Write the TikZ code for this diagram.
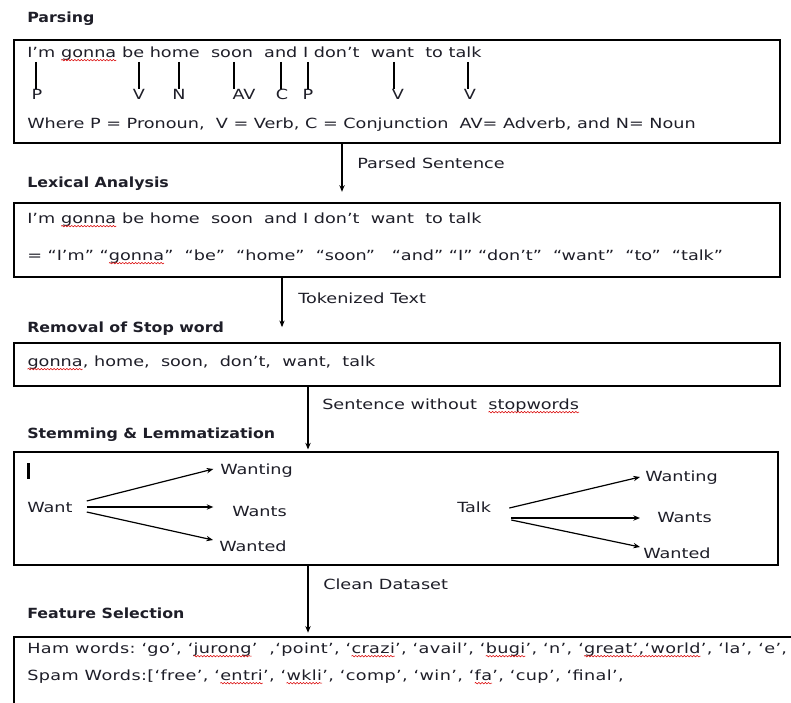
\documentclass[tikz,border=0pt]{standalone}
\usepackage{fontspec}
\setmainfont{DejaVu Sans}[FakeStretch=1.26, BoldFeatures={FakeStretch=1.13}]
\usetikzlibrary{arrows.meta,fit,decorations.pathmorphing}
\definecolor{ink}{HTML}{1E1E28}
\newcommand\squig[1]{\tikz[baseline=(sq.base)]{\node[inner sep=0pt,outer sep=0pt,anchor=base] (sq) {#1};
  \draw[red!85!black, line width=0.4pt, decorate, decoration={snake,amplitude=0.55pt,segment length=2.4pt}]
    ([yshift=-2pt]sq.base west) -- ([yshift=-2pt]sq.base east);}}
\begin{document}
\begin{tikzpicture}[x=0.75pt,y=-0.75pt,
  font=\fontsize{10.5pt}{12pt}\selectfont, text=ink,
  box/.style={draw, line width=1.8pt, inner sep=0pt},
  txt/.style={anchor=west, inner sep=0pt},
  widetxt/.style={anchor=west, inner sep=0pt, font=\fontsize{10.5pt}{12pt}\selectfont\addfontfeature{LetterSpace=2.6}},
  ttl/.style={anchor=west, inner sep=0pt, font=\fontsize{10.5pt}{12pt}\selectfont\bfseries},
  tagl/.style={anchor=north, inner sep=0pt},
  conn/.style={line width=0.9pt, -{Stealth[length=5pt,width=4pt]}},
  tagline/.style={line width=0.9pt}]
\useasboundingbox (0,0) rectangle (791,702);

% ---------- Parsing ----------
\node[ttl] (t1) at (27,19) {Parsing};
\node[box, fit={(14,40) (780,143)}] (b1) {};
\node[txt] (s1) at (27,54) {I’m \squig{gonna} be home\ \ soon\ \ and I don’t\ \ want\ \ to talk};
\node[tagl] (p1) at (37,89) {P};
\node[tagl] (p2) at (139,89) {V};
\node[tagl] (p3) at (179,89) {N};
\node[tagl] (p4) at (244,89) {AV};
\node[tagl] (p5) at (282,89) {C};
\node[tagl] (p6) at (308,89) {P};
\node[tagl] (p7) at (398,89) {V};
\node[tagl] (p8) at (470,89) {V};
\coordinate (w1) at (36,62);
\coordinate (w2) at (139,62);
\coordinate (w3) at (179,62);
\coordinate (w4) at (234,62);
\coordinate (w5) at (281,62);
\coordinate (w6) at (308,62);
\coordinate (w7) at (394,62);
\coordinate (w8) at (468,62);
\foreach \i in {1,...,8}{\draw[tagline] (w\i) -- (w\i |- p\i.north);}
\node[txt] (s2) at (27,125) {Where P = Pronoun,\ \ V = Verb, C = Conjunction\ \ AV= Adverb, and N= Noun};

% ---------- Lexical Analysis ----------
\node[ttl] (t2) at (27,184) {Lexical Analysis};
\node[box, fit={(14,203) (780,277)}] (b2) {};
\node[txt] at (27,220) {I’m \squig{gonna} be home\ \ soon\ \ and I don’t\ \ want\ \ to talk};
\node[txt] at (27,257) {= “I’m” “\squig{gonna}”\ \ “be”\ \ “home”\ \ “soon”\ \ \ “and” “I” “don’t”\ \ “want”\ \ “to”\ \ “talk”};

% ---------- Removal of Stop word ----------
\node[ttl] (t3) at (27,329) {Removal of Stop word};
\node[box, fit={(14,343) (780,386)}] (b3) {};
\node[txt] at (27,363) {\squig{gonna}, home,\ \ soon,\ \ don’t,\ \ want,\ \ talk};

% ---------- Stemming ----------
\node[ttl] (t4) at (27,435) {Stemming \& Lemmatization};
\node[box, fit={(14,452) (778,565)}] (b4) {};
\draw[line width=2.4pt] (28.5,463) -- (28.5,479);
\node[txt] (want) at (27,507) {Want};
\node[txt] (wanting1) at (220,471) {Wanting};
\node[txt] (wants1) at (232,511) {Wants};
\node[txt] (wanted1) at (219,546) {Wanted};
\draw[conn] ([xshift=10.5pt,yshift=4.5pt]want.east) -- ([xshift=-5pt,yshift=1.5pt]wanting1.west);
\draw[conn] ([xshift=10.5pt]want.east) -- ([xshift=-14pt,yshift=3pt]wants1.west);
\draw[conn] ([xshift=10.5pt,yshift=-3.75pt]want.east) -- ([xshift=-4.5pt,yshift=4.5pt]wanted1.west);
\node[txt] (talk) at (457,507) {Talk};
\node[txt] (wanting2) at (645,478) {Wanting};
\node[txt] (wants2) at (657,517) {Wants};
\node[txt] (wanted2) at (643,553) {Wanted};
\draw[conn] ([xshift=13.5pt,yshift=-0.75pt]talk.east) -- ([xshift=-3.75pt,yshift=0.75pt]wanting2.west);
\draw[conn] ([xshift=15pt,yshift=-8.25pt]talk.east) -- ([xshift=-12.75pt,yshift=-0.75pt]wants2.west);
\draw[conn] ([xshift=15pt,yshift=-9.75pt]talk.east) -- ([xshift=-2.25pt,yshift=4.5pt]wanted2.west);

% ---------- Feature Selection ----------
\node[ttl] (t5) at (27,613) {Feature Selection};
\node[fit={(14,637) (800,720)}, inner sep=0pt] (b5) {};
\draw[line width=1.8pt] (b5.north east) -- (b5.north west) -- (b5.south west);
\node[widetxt] at (27,650) {Ham words:\ ‘go’, ‘\squig{jurong}’\ \ ,‘point’, ‘\squig{crazi}’, ‘avail’, ‘\squig{bugi}’, ‘n’, ‘\squig{great’,‘world}’, ‘la’, ‘e’,};
\node[widetxt] at (27,677) {Spam Words:[‘free’, ‘\squig{entri}’, ‘\squig{wkli}’, ‘comp’, ‘win’, ‘\squig{fa}’, ‘cup’, ‘final’,};

% ---------- connectors ----------
\coordinate (a1) at (342,0);
\coordinate (a2) at (282,0);
\coordinate (a3) at (308,0);
\draw[conn, shorten >=7.5pt] (b1.south -| a1) -- (b2.north -| a1);
\node[txt] at (357,163) {Parsed Sentence};
\draw[conn, shorten >=11pt] (b2.south -| a2) -- (b3.north -| a2);
\node[txt] at (298,298) {Tokenized Text};
\draw[conn, shorten >=1pt] (b3.south -| a3) -- (b4.north -| a3);
\node[txt] at (322,406) {Sentence without\ \ \squig{stopwords}};
\draw[conn, shorten >=3pt] (b4.south -| a3) -- (b5.north -| a3);
\node[txt] at (323,584) {Clean Dataset};
\end{tikzpicture}
\end{document}
